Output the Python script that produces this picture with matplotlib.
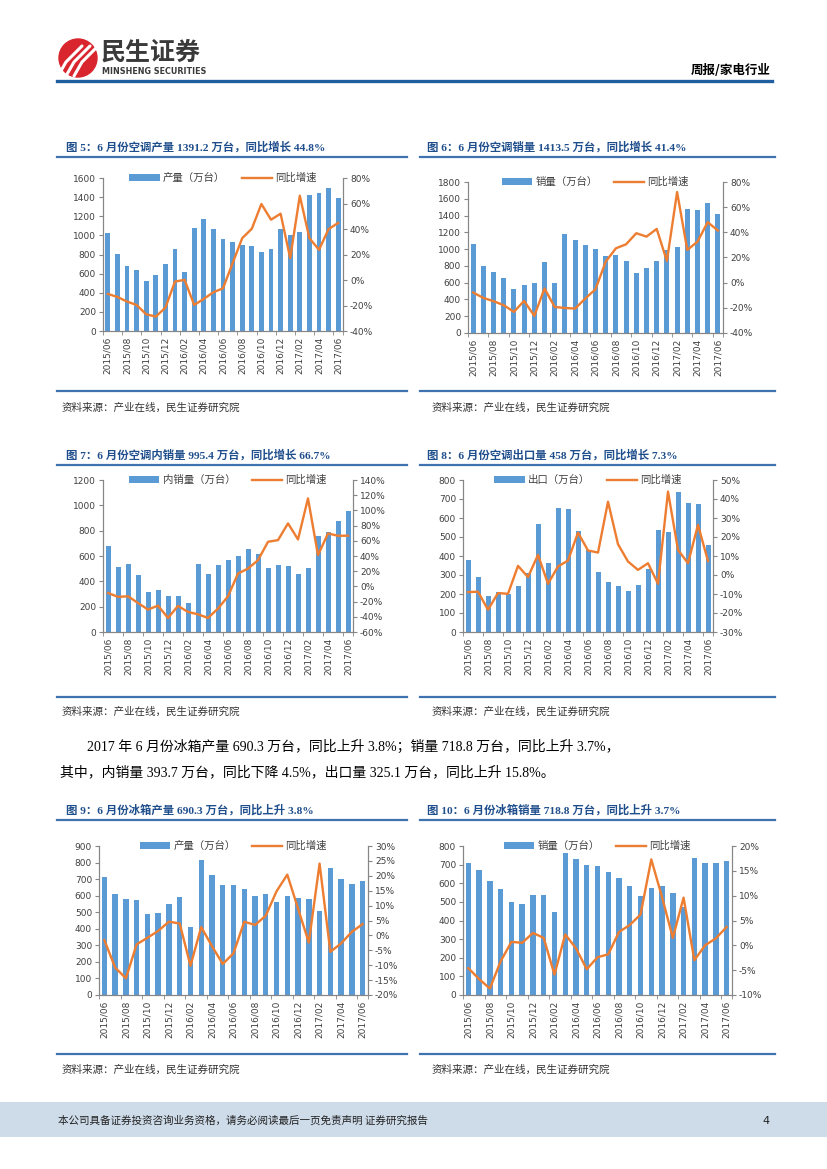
import numpy as np
import matplotlib
matplotlib.use('Agg')
import matplotlib.pyplot as plt
from matplotlib.patches import Rectangle, Circle
from matplotlib.ticker import FuncFormatter

plt.rcParams['font.family'] = ['DejaVu Sans', 'Noto Sans CJK SC']

W, H = 827, 1169

months = ['2015/06', '2015/07', '2015/08', '2015/09', '2015/10', '2015/11', '2015/12',
          '2016/01', '2016/02', '2016/03', '2016/04', '2016/05', '2016/06', '2016/07',
          '2016/08', '2016/09', '2016/10', '2016/11', '2016/12', '2017/01', '2017/02',
          '2017/03', '2017/04', '2017/05', '2017/06']

# 空调产量 / 同比
ac_prod = [1023, 807, 681, 636, 524, 587, 702, 856, 622, 1076, 1170, 1065, 961, 929,
           901, 894, 831, 859, 1069, 1003, 1034, 1425, 1443, 1495, 1391.2]
ac_prod_yoy = [-10.9, -13.3, -16.9, -19.6, -26.9, -28.7, -21.7, -1.2, 0.1, -19.6, -14.8,
               -9.6, -6.5, 13.2, 32.8, 40.2, 59.6, 47.3, 52.0, 17.1, 66.1, 32.8, 23.7,
               39.9, 44.8]

# 空调销量
ac_sales = [1057, 799, 727, 656, 521, 568, 600, 846, 600, 1184, 1105, 1053, 997, 918,
            926, 854, 719, 775, 854, 985, 1025, 1482, 1462, 1550, 1413.5]
ac_sales_yoy = [-7.8, -12.1, -14.7, -17.9, -23.2, -14.5, -26.4, -4.6, -19.3, -20.1,
                -20.6, -12.6, -5.2, 16.7, 27.3, 30.5, 39.3, 36.6, 42.7, 17.2, 72.0,
                26.0, 32.6, 48.1, 41.4]

# 空调内销量
ac_dom = [678, 514, 535, 448, 316, 330, 282, 282, 232, 535, 461, 527, 572, 599, 659,
          614, 504, 530, 520, 456, 504, 757, 789, 878, 955.4]
ac_dom_yoy = [-8.6, -13.8, -13.0, -21.8, -30.5, -25.3, -41.5, -25.7, -33.6, -36.7,
              -41.5, -29.2, -13.0, 16.9, 23.5, 34.5, 58.7, 60.9, 82.9, 61.8, 115.8,
              41.1, 69.7, 66.6, 66.7]

# 空调出口
ac_exp = [380, 287, 191, 208, 201, 240, 313, 569, 364, 651, 646, 529, 433, 317, 264,
          243, 214, 245, 331, 538, 524, 736, 681, 674, 458]
ac_exp_yoy = [-9.0, -8.8, -18.3, -9.5, -9.9, 4.8, -1.1, 10.6, -4.6, 4.5, 7.6, 22.3,
              12.9, 11.8, 38.6, 16.2, 7.1, 2.7, 6.2, -4.6, 43.9, 13.2, 6.2, 26.4, 7.3]

# 冰箱产量
fr_prod = [713, 613, 577, 573, 492, 498, 552, 593, 408, 814, 727, 667, 667, 639, 597,
           609, 564, 599, 587, 577, 508, 767, 701, 673, 690.3]
fr_prod_yoy = [-1.6, -10.8, -14.4, -3.0, -0.8, 1.5, 4.6, 4.0, -10.2, 2.8, -3.6, -9.6,
               -6.0, 4.6, 3.5, 6.6, 14.8, 20.4, 9.0, -2.4, 24.1, -5.5, -2.7, 1.2, 3.8]

# 冰箱销量
fr_sales = [711, 673, 611, 568, 502, 491, 539, 539, 446, 764, 729, 700, 695, 659, 627,
            587, 534, 575, 587, 545, 470, 738, 711, 707, 718.8]
fr_sales_yoy = [-4.6, -6.8, -8.7, -3.2, 0.7, 0.5, 2.5, 1.5, -5.9, 2.2, -0.6, -4.8,
                -2.4, -1.8, 2.7, 4.1, 6.2, 17.3, 9.7, 1.5, 9.6, -3.0, 0.0, 1.4, 3.7]

BAR = '#5B9BD5'
LINE = '#ED7D31'
BLUE = '#3F72AF'
TITLE_C = '#1F4E8C'
SERIF = ['Liberation Serif', 'Noto Sans CJK SC']
CJK = ['Noto Sans CJK SC', 'DejaVu Sans']

fig = plt.figure(figsize=(W / 100, H / 100), dpi=100)

# 背景层: 像素坐标
bg = fig.add_axes([0, 0, 1, 1])
bg.set_xlim(0, W)
bg.set_ylim(H, 0)
bg.axis('off')

# 页眉
bg.add_patch(Circle((78, 58), 19, color='#D9262E'))
for dx in (-8, 0, 8):
    bg.plot([66 + dx, 74 + dx, 90 + dx], [76, 62, 46], color='white', lw=2.2,
            solid_capstyle='round')
bg.text(101, 53, '民生证券', fontsize=18, fontweight='bold', color='#3a3a3a',
        family=CJK, va='center', ha='left')
bg.text(102, 72, 'MINSHENG SECURITIES', fontsize=5.8, fontweight='bold',
        color='#3a3a3a', va='center', ha='left')
bg.text(771, 70, '周报/家电行业', fontsize=9, fontweight='bold', color='black',
        family=CJK, va='center', ha='right')
bg.plot([57, 772], [81, 81], color='#1F5FA0', lw=2.4)

# 页脚
bg.add_patch(Rectangle((0, 1102), W, 35, color='#CEDCEA', lw=0))
bg.text(58, 1121, '本公司具备证券投资咨询业务资格，请务必阅读最后一页免责声明 证券研究报告',
        fontsize=7.6, family=CJK, color='#222222', va='center', ha='left')
bg.text(770, 1121, '4', fontsize=8, color='#222222', va='center', ha='right')

# 正文段落
bg.text(87, 747, '2017 年 6 月份冰箱产量 690.3 万台，同比上升 3.8%；销量 718.8 万台，同比上升 3.7%，',
        fontsize=10, family=SERIF, color='black', va='center', ha='left')
bg.text(60, 772, '其中，内销量 393.7 万台，同比下降 4.5%，出口量 325.1 万台，同比上升 15.8%。',
        fontsize=10, family=SERIF, color='black', va='center', ha='left')

panels = [
    # (标题, 标题y, 线x范围, 分隔线y, 来源y, 文字x)
    ('图 5：6 月份空调产量 1391.2 万台，同比增长 44.8%', 147, (57, 407), 391, 408, 66),
    ('图 6：6 月份空调销量 1413.5 万台，同比增长 41.4%', 147, (420, 775), 391, 408, 427),
    ('图 7：6 月份空调内销量 995.4 万台，同比增长 66.7%', 455, (57, 407), 697, 712, 66),
    ('图 8：6 月份空调出口量 458 万台，同比增长 7.3%', 455, (420, 775), 697, 712, 427),
    ('图 9：6 月份冰箱产量 690.3 万台，同比上升 3.8%', 810, (57, 407), 1054, 1070, 66),
    ('图 10：6 月份冰箱销量 718.8 万台，同比上升 3.7%', 810, (420, 775), 1054, 1070, 427),
]
for title, ty, (x0, x1), sy, src_y, tx in panels:
    bg.text(tx, ty, title, fontsize=8.2, fontweight='bold', family=SERIF, color=TITLE_C,
            va='center', ha='left')
    bg.plot([x0, x1], [ty + 10, ty + 10], color=BLUE, lw=1.6)
    bg.plot([x0, x1], [sy, sy], color=BLUE, lw=1.6)
    bg.text(tx - 4 if tx < 100 else tx + 5, src_y, '资料来源：产业在线，民生证券研究院',
            fontsize=7.6, family=CJK, color='#333333', va='center', ha='left')


def draw_chart(box, values, yoy, bar_label, ymax, ystep, lo2, hi2, step2):
    l, t, r, b = box
    ax = fig.add_axes([l / W, 1 - b / H, (r - l) / W, (b - t) / H])
    ax.patch.set_alpha(0)
    x = np.arange(len(months))
    bars = ax.bar(x, values, width=0.5, color=BAR, zorder=2)
    ax.set_xlim(-0.5, len(months) - 0.5)
    ax.set_ylim(0, ymax)
    ax.set_yticks(np.arange(0, ymax + 1, ystep))

    ax2 = ax.twinx()
    line, = ax2.plot(x, yoy, color=LINE, lw=1.7, zorder=3)
    ax2.set_ylim(lo2, hi2)
    ax2.set_yticks(np.arange(lo2, hi2 + 1, step2))
    ax2.yaxis.set_major_formatter(FuncFormatter(lambda v, p: f'{v:.0f}%'))

    ax.set_xticks(x[::2])
    ax.set_xticklabels(months[::2], rotation=90)
    ax.set_xticks(list(np.arange(-0.5, len(months), 2)) + [len(months) - 0.5], minor=True)
    ax.tick_params(axis='x', which='major', length=0, pad=4)
    ax.tick_params(axis='x', which='minor', length=3, direction='out', color='#868686')

    for a in (ax, ax2):
        a.spines['top'].set_visible(False)
        for s in ('left', 'right', 'bottom'):
            a.spines[s].set_color('#868686')
            a.spines[s].set_linewidth(0.8)
        a.tick_params(axis='y', length=3, direction='out', color='#868686',
                      labelsize=6.5, labelcolor='#404040', pad=2)
        a.tick_params(axis='x', labelsize=6.5, labelcolor='#404040')

    ax2.legend([bars, line], [bar_label, '同比增速'], loc='center',
               bbox_to_anchor=(0.5, 1.0), ncol=2, frameon=False,
               handlelength=2.9, handletextpad=0.3, columnspacing=1.6,
               prop={'family': CJK, 'size': 7.5}, labelcolor='#404040')


draw_chart((103, 178, 343, 331), ac_prod, ac_prod_yoy, '产量（万台）', 1600, 200, -40, 80, 20)
draw_chart((468, 182, 723, 333), ac_sales, ac_sales_yoy, '销量（万台）', 1800, 200, -40, 80, 20)
draw_chart((103, 480, 353, 632), ac_dom, ac_dom_yoy, '内销量（万台）', 1200, 200, -60, 140, 20)
draw_chart((463, 480, 713, 632), ac_exp, ac_exp_yoy, '出口（万台）', 800, 100, -30, 50, 10)
draw_chart((99, 846, 368, 995), fr_prod, fr_prod_yoy, '产量（万台）', 900, 100, -20, 30, 5)
draw_chart((463, 846, 732, 995), fr_sales, fr_sales_yoy, '销量（万台）', 800, 100, -10, 20, 5)

fig.savefig('out.png', dpi=100)
